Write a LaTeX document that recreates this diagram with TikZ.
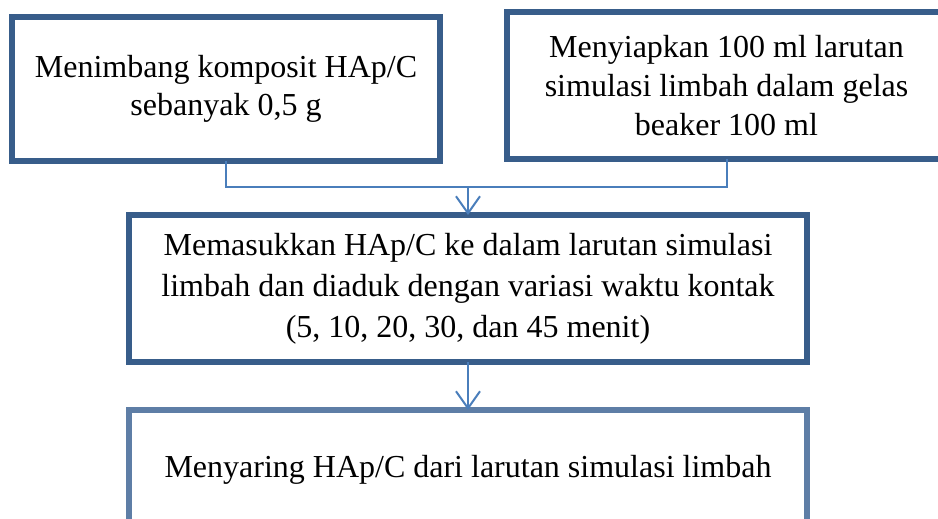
\documentclass[tikz,border=0pt]{standalone}
\usepackage{fontspec}
\setmainfont{Liberation Serif}
\usetikzlibrary{arrows.meta}
\definecolor{boxblue}{HTML}{385D8A}
\definecolor{boxlight}{HTML}{5E7EA6}
\definecolor{connblue}{HTML}{4A7EBB}
\tikzset{
  stepbox/.style={draw=boxblue, line width=5.5pt, fill=white, align=center,
    inner sep=0pt, outer sep=0pt,
    font=\fontsize{32}{38}\selectfont},
  conn/.style={draw=connblue, line width=2pt},
  flowarrow/.style={conn, -{Straight Barb[length=17pt,width=24pt,line width=2pt]}}
}
\begin{document}
\begin{tikzpicture}[x=1pt,y=-1pt]
\useasboundingbox (0,0) rectangle (938,519);
\node[stepbox, minimum width=428pt, minimum height=144pt] (b1) at (226,89)
  {Menimbang komposit HAp/C\\sebanyak 0,5 g};
\node[stepbox, minimum width=439pt, minimum height=147pt,
  font=\fontsize{32}{39}\selectfont] (b2) at (726.5,85.5)
  {Menyiapkan 100 ml larutan\\simulasi limbah dalam gelas\\beaker 100 ml};
\node[stepbox, minimum width=678pt, minimum height=147pt,
  font=\fontsize{32}{41}\selectfont] (b3) at (468,288.5)
  {Memasukkan HAp/C ke dalam larutan simulasi\\limbah dan diaduk dengan variasi waktu kontak\\(5, 10, 20, 30, dan 45 menit)};
\node[stepbox, draw=boxlight, minimum width=678pt, anchor=north,
  text height=67pt, text depth=100pt] (b4) at (468,410)
  {Menyaring HAp/C dari larutan simulasi limbah};
\coordinate (j) at (468,187);
\draw[conn] (b1.south) |- (j) -| (b2.south);
\draw[flowarrow] (j) -- (b3.north);
\draw[flowarrow] (b3.south) -- (b4.north);
\end{tikzpicture}
\end{document}
